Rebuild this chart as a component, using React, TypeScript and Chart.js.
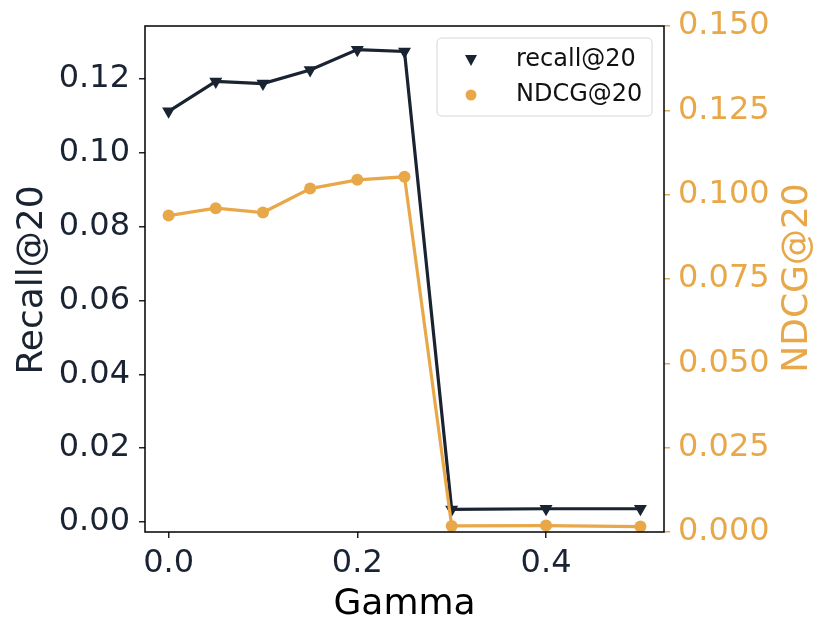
import React, { useEffect, useRef } from "react";
import { Chart, registerables } from "chart.js";

Chart.register(...registerables);

const gammaValues = [0, 0.05, 0.1, 0.15, 0.2, 0.25, 0.3, 0.4, 0.5];
const recallValues = [0.1112, 0.1193, 0.1187, 0.1224, 0.1279, 0.1274, 0.0034, 0.0036, 0.0036];
const ndcgValues = [0.0938, 0.096, 0.0947, 0.1018, 0.1044, 0.1053, 0.0018, 0.0019, 0.0016];
const xTickValues = [0, 0.2, 0.4];
const recallTickValues = [0, 0.02, 0.04, 0.06, 0.08, 0.1, 0.12];
const ndcgTickValues = [0, 0.025, 0.05, 0.075, 0.1, 0.125, 0.15];
const seriesNames = ["recall@20", "NDCG@20"];
const axisTitles = { x: "Gamma", y: "Recall@20", y1: "NDCG@20" };

const NAVY = "#1a2332";
const ORANGE = "#e8a849";
const FONT = "'DejaVu Sans', sans-serif";

const overlayPlugin = {
  id: "overlay",
  afterDraw(chart: any) {
    const { ctx, chartArea } = chart;
    const { left, right, top, bottom } = chartArea;
    ctx.save();
    // frame
    ctx.strokeStyle = "#000000";
    ctx.lineWidth = 1.5;
    ctx.strokeRect(left, top, right - left, bottom - top);

    // axis titles
    ctx.font = `36px ${FONT}`;
    ctx.textAlign = "center";
    ctx.textBaseline = "alphabetic";
    ctx.fillStyle = "#000000";
    ctx.fillText(axisTitles.x, (left + right) / 2, 614);

    ctx.save();
    ctx.translate(42, (top + bottom) / 2 + 1);
    ctx.rotate(-Math.PI / 2);
    ctx.fillStyle = NAVY;
    ctx.fillText(axisTitles.y, 0, 0);
    ctx.restore();

    ctx.save();
    ctx.translate(807, (top + bottom) / 2 - 1);
    ctx.rotate(-Math.PI / 2);
    ctx.fillStyle = ORANGE;
    ctx.fillText(axisTitles.y1, 0, 0);
    ctx.restore();

    // legend
    const bx = 437, by = 38, bw = 215, bh = 78, r = 5;
    ctx.beginPath();
    ctx.moveTo(bx + r, by);
    ctx.lineTo(bx + bw - r, by);
    ctx.quadraticCurveTo(bx + bw, by, bx + bw, by + r);
    ctx.lineTo(bx + bw, by + bh - r);
    ctx.quadraticCurveTo(bx + bw, by + bh, bx + bw - r, by + bh);
    ctx.lineTo(bx + r, by + bh);
    ctx.quadraticCurveTo(bx, by + bh, bx, by + bh - r);
    ctx.lineTo(bx, by + r);
    ctx.quadraticCurveTo(bx, by, bx + r, by);
    ctx.closePath();
    ctx.fillStyle = "rgba(255,255,255,0.8)";
    ctx.fill();
    ctx.strokeStyle = "#d6d6d6";
    ctx.lineWidth = 1;
    ctx.stroke();

    // triangle marker
    const mx = 471;
    ctx.fillStyle = NAVY;
    ctx.beginPath();
    ctx.moveTo(mx - 6, 55);
    ctx.lineTo(mx + 6, 55);
    ctx.lineTo(mx, 66);
    ctx.closePath();
    ctx.fill();
    // circle marker
    ctx.fillStyle = ORANGE;
    ctx.beginPath();
    ctx.arc(mx, 95, 5.5, 0, Math.PI * 2);
    ctx.fill();

    ctx.font = `24px ${FONT}`;
    ctx.textAlign = "left";
    ctx.fillStyle = "#111111";
    ctx.fillText(seriesNames[0], 516, 66);
    ctx.fillText(seriesNames[1], 516, 101);
    ctx.restore();
  },
};

export default function App() {
  const canvasRef = useRef<HTMLCanvasElement | null>(null);

  useEffect(() => {
    if (!canvasRef.current) return;
    const chart = new Chart(canvasRef.current, {
      type: "line",
      data: {
        datasets: [
          {
            label: seriesNames[0],
            data: gammaValues.map((g, i) => ({ x: g, y: recallValues[i] })),
            borderColor: NAVY,
            backgroundColor: NAVY,
            borderWidth: 3.2,
            pointStyle: "triangle",
            rotation: 180,
            pointRadius: 7.5,
            pointBorderWidth: 0,
            yAxisID: "y",
            order: 1,
          },
          {
            label: seriesNames[1],
            data: gammaValues.map((g, i) => ({ x: g, y: ndcgValues[i] })),
            borderColor: ORANGE,
            backgroundColor: ORANGE,
            borderWidth: 3.2,
            pointStyle: "circle",
            pointRadius: 6,
            pointBorderWidth: 0,
            yAxisID: "y1",
            order: 0,
          },
        ],
      },
      options: {
        responsive: true,
        maintainAspectRatio: false,
        animation: false,
        layout: { padding: { top: 26, left: 0, right: 0, bottom: 0 } },
        plugins: { legend: { display: false }, tooltip: { enabled: false } },
        scales: {
          x: {
            type: "linear",
            min: -0.025,
            max: 0.525,
            afterFit: (s: any) => {
              s.height = 103;
              s.paddingLeft = 0;
              s.paddingRight = 0;
            },
            afterBuildTicks: (s: any) => {
              s.ticks = xTickValues.map((v) => ({ value: v }));
            },
            ticks: {
              color: NAVY,
              font: { family: FONT, size: 32 },
              padding: 6,
              maxRotation: 0,
              autoSkip: false,
              callback: (v: any) => Number(v).toFixed(1),
            },
            grid: { drawOnChartArea: false, drawTicks: true, tickLength: 6, color: NAVY, lineWidth: 1.5 },
            border: { display: false },
          },
          y: {
            type: "linear",
            position: "left",
            min: -0.0027,
            max: 0.1343,
            afterFit: (s: any) => {
              s.width = 145;
              s.paddingTop = 0;
              s.paddingBottom = 0;
            },
            afterBuildTicks: (s: any) => {
              s.ticks = recallTickValues.map((v) => ({ value: v }));
            },
            ticks: {
              color: NAVY,
              font: { family: FONT, size: 32 },
              padding: 9,
              autoSkip: false,
              callback: (v: any) => Number(v).toFixed(2),
            },
            grid: { drawOnChartArea: false, drawTicks: true, tickLength: 6, color: NAVY, lineWidth: 1.5 },
            border: { display: false },
          },
          y1: {
            type: "linear",
            position: "right",
            min: 0,
            max: 0.15,
            afterFit: (s: any) => {
              s.width = 166;
              s.paddingTop = 0;
              s.paddingBottom = 0;
            },
            afterBuildTicks: (s: any) => {
              s.ticks = ndcgTickValues.map((v) => ({ value: v }));
            },
            ticks: {
              color: ORANGE,
              font: { family: FONT, size: 32 },
              padding: 8,
              autoSkip: false,
              callback: (v: any) => Number(v).toFixed(3),
            },
            grid: { drawOnChartArea: false, drawTicks: true, tickLength: 6, color: ORANGE, lineWidth: 1.5 },
            border: { display: false },
          },
        },
      },
      plugins: [overlayPlugin],
    });
    return () => chart.destroy();
  }, []);

  return (
    <div style={{ position: "fixed", left: 0, top: 0, width: 830, height: 635, background: "#ffffff" }}>
      <canvas ref={canvasRef} />
    </div>
  );
}
